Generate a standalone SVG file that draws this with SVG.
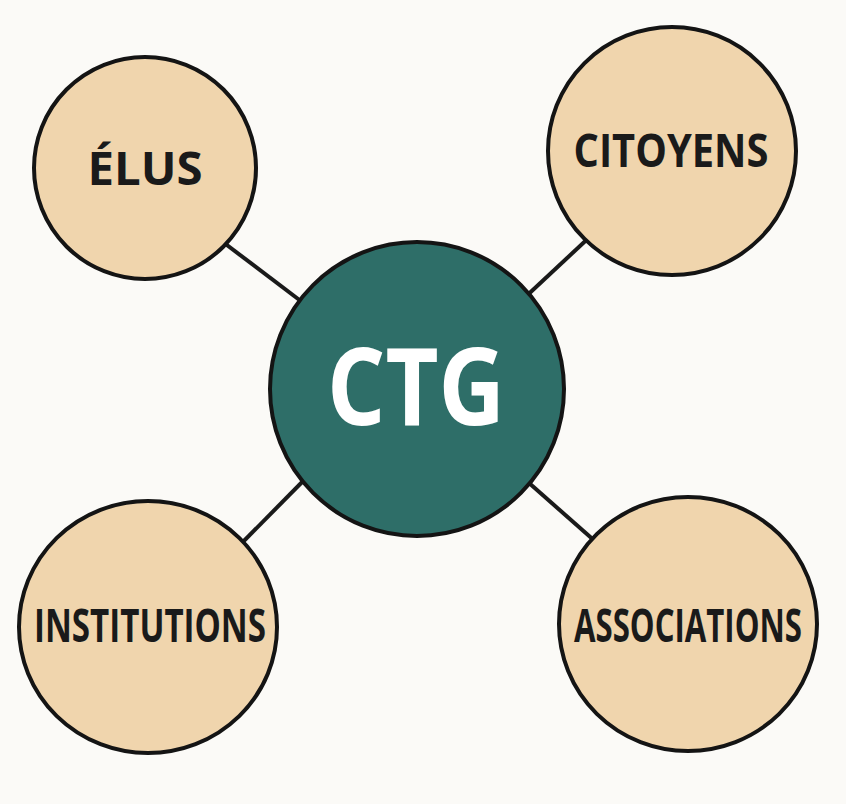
<svg xmlns="http://www.w3.org/2000/svg" width="846" height="804" viewBox="0 0 846 804">
<style>
.bg{fill:#fbfaf7}
.link{stroke:#1a1a1a;stroke-width:4;stroke-linecap:butt}
.outer{fill:#f0d5ad;stroke:#141414;stroke-width:4}
.hub{fill:#2e6e68;stroke:#141414;stroke-width:4}
.lbl{font-family:"Open Sans","Liberation Sans",sans-serif;font-weight:700;font-size:46px;fill:#1a1a1a;text-anchor:middle}
.hubl{font-family:"Open Sans","Liberation Sans",sans-serif;font-weight:700;font-size:108px;fill:#ffffff;text-anchor:middle}
</style>
<rect class="bg" x="0" y="0" width="846" height="804"/>
<g id="connectors">
<line class="link" x1="215" y1="236" x2="310" y2="308"/>
<line class="link" x1="595" y1="232" x2="520" y2="302"/>
<line class="link" x1="233" y1="552" x2="312" y2="472"/>
<line class="link" x1="605" y1="550" x2="520" y2="475"/>
</g>
<g id="node-elus">
<circle class="outer" cx="145" cy="168" r="111"/>
<text class="lbl" x="145" y="185" textLength="115" lengthAdjust="spacingAndGlyphs">ÉLUS</text>
</g>
<g id="node-citoyens">
<circle class="outer" cx="672" cy="151" r="124"/>
<text class="lbl" x="671" y="167" textLength="195" lengthAdjust="spacingAndGlyphs">CITOYENS</text>
</g>
<g id="node-institutions">
<ellipse class="outer" cx="148" cy="627" rx="129" ry="126"/>
<text class="lbl" x="150" y="642" textLength="232" lengthAdjust="spacingAndGlyphs">INSTITUTIONS</text>
</g>
<g id="node-associations">
<ellipse class="outer" cx="688" cy="624" rx="129" ry="127"/>
<text class="lbl" x="688" y="642" textLength="228" lengthAdjust="spacingAndGlyphs">ASSOCIATIONS</text>
</g>
<g id="node-ctg">
<circle class="hub" cx="417" cy="389" r="147"/>
<text class="hubl" x="416" y="425" textLength="178" lengthAdjust="spacingAndGlyphs">CTG</text>
</g>
</svg>
